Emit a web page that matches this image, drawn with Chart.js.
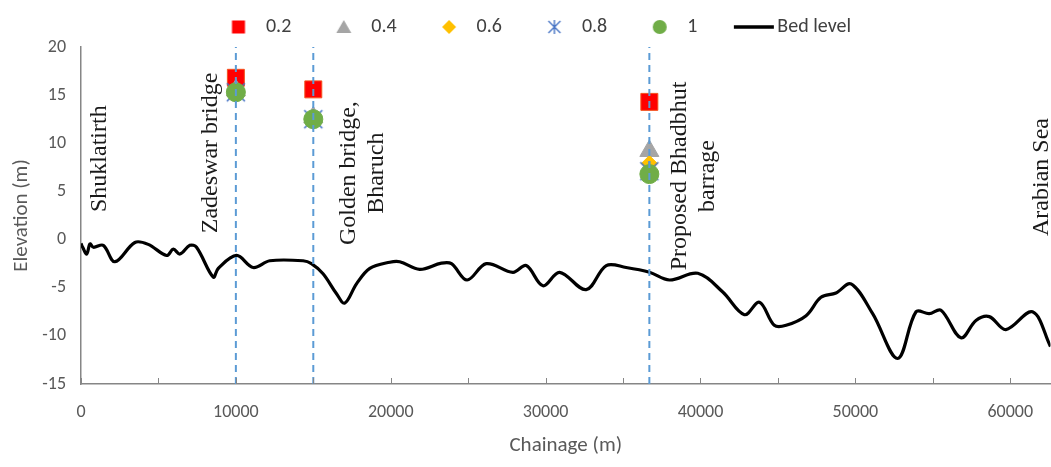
<!DOCTYPE html>
<html>
<head>
<meta charset="utf-8">
<script src="https://cdn.jsdelivr.net/npm/chart.js@4.4.1/dist/chart.umd.min.js"></script>
<style>
  body { margin: 0; background: #fff; }
</style>
</head>
<body>
<canvas id="profileChart" width="1051" height="467"></canvas>
<script>
// bed profile along the river (chainage in m, elevation in m)
var chainage = [0, 110, 370, 580, 800, 1440, 2190, 3480, 4340, 5530, 5960, 6390, 7030, 7460, 8540, 8860,
    10040, 11120, 12190, 14340, 14880, 15630, 16490, 17030, 17790, 18650, 19940, 20580, 21870, 23270,
    23920, 24930, 26170, 27890, 28750, 29830, 30900, 32620, 33920, 35200, 36710, 38000, 39830, 41440,
    42840, 43810, 44770, 45530, 46820, 47780, 48750, 49720, 51120, 52730, 53920, 54770, 55530, 56820,
    57790, 58650, 59720, 61440, 62600];
var bedLevel = [-0.4, -0.8, -1.5, -0.45, -0.8, -0.6, -2.3, -0.3, -0.5, -1.65, -1.0, -1.5, -0.6, -0.8, -3.9, -3.0,
    -1.65, -2.9, -2.2, -2.2, -2.5, -3.55, -5.6, -6.6, -4.6, -3.0, -2.35, -2.3, -3.1, -2.45,
    -2.5, -4.2, -2.5, -3.4, -2.7, -4.8, -3.4, -5.2, -2.7, -2.9, -3.4, -4.2, -3.5, -5.45,
    -7.8, -6.5, -8.9, -8.9, -7.9, -6.0, -5.55, -4.6, -7.7, -12.35, -7.5, -7.7, -7.35, -10.2,
    -8.4, -8.0, -9.35, -7.5, -11.1];

// water levels at the three sections
var sectionChainage = [10000, 15000, 36700];
var level02 = [16.8, 15.6, 14.3];
var level04 = [15.5, 12.7, 9.2];
var level06 = [15.4, 12.6, 7.9];
var level08 = [15.3, 12.5, 7.1];
var level10 = [15.3, 12.5, 6.8];

var xTicks = [0, 10000, 20000, 30000, 40000, 50000, 60000];
var yTop = 20, yBottom = -15, xMax = 62600;

// place names written along the profile
var placeNotes = [
    { lines: ['Shuklatirth'], x: 1230, y: 8.4 },
    { lines: ['Zadeswar bridge'], x: 8390, y: 9.0 },
    { lines: ['Golden bridge,', 'Bharuch'], x: 18190, y: 6.9 },
    { lines: ['Proposed Bhadbhut', 'barrage'], x: 39580, y: 6.6 },
    { lines: ['Arabian Sea'], x: 62060, y: 6.5 }
];

var sansFont = 'Carlito, Calibri, Lato, sans-serif';

function toPoints(xs, ys) {
    return xs.map(function(x, i) { return { x: x, y: ys[i] }; });
}

// icon canvas whose marker sits "shift" px right of the image centre
function makeIcon(shift, halfW, h, draw) {
    var c = document.createElement('canvas');
    c.width = 2 * (Math.abs(shift) + halfW);
    c.height = h;
    draw(c.getContext('2d'), c.width / 2 + shift, h / 2);
    return c;
}

var starBig = makeIcon(0, 11, 22, function(g, cx, cy) {
    g.strokeStyle = '#4472C4'; g.lineWidth = 1.6;
    g.beginPath();
    g.moveTo(cx - 9, cy - 9); g.lineTo(cx + 9, cy + 9);
    g.moveTo(cx + 9, cy - 9); g.lineTo(cx - 9, cy + 9);
    g.moveTo(cx, cy - 10); g.lineTo(cx, cy + 10);
    g.stroke();
});

var legendShift = 10.5;
var legendIcons = {
    '0.2': makeIcon(legendShift, 8, 16, function(g, cx, cy) {
        g.fillStyle = '#FF0000'; g.fillRect(cx - 6.5, cy - 6.5, 13, 13);
    }),
    '0.4': makeIcon(legendShift, 8, 16, function(g, cx, cy) {
        g.fillStyle = '#A5A5A5'; g.beginPath();
        g.moveTo(cx, cy - 7); g.lineTo(cx + 7.5, cy + 6); g.lineTo(cx - 7.5, cy + 6); g.closePath(); g.fill();
    }),
    '0.6': makeIcon(legendShift, 8, 16, function(g, cx, cy) {
        g.fillStyle = '#FFC000'; g.beginPath();
        g.moveTo(cx, cy - 7); g.lineTo(cx + 7, cy); g.lineTo(cx, cy + 7); g.lineTo(cx - 7, cy); g.closePath(); g.fill();
    }),
    '0.8': makeIcon(legendShift, 8, 16, function(g, cx, cy) {
        g.strokeStyle = '#4472C4'; g.lineWidth = 1.4; g.beginPath();
        g.moveTo(cx - 6, cy - 6); g.lineTo(cx + 6, cy + 6); g.moveTo(cx + 6, cy - 6); g.lineTo(cx - 6, cy + 6);
        g.moveTo(cx, cy - 7); g.lineTo(cx, cy + 7); g.stroke();
    }),
    '1': makeIcon(legendShift, 8, 16, function(g, cx, cy) {
        g.fillStyle = '#70AD47'; g.beginPath(); g.arc(cx, cy, 7, 0, Math.PI * 2); g.fill();
    }),
    'Bed level': makeIcon(14.5, 21, 6, function(g, cx, cy) {
        g.fillStyle = '#000'; g.fillRect(cx - 20, cy - 1.75, 40, 3.5);
    })
};

var sectionLines = sectionChainage.map(function(x) {
    return {
        label: 'section',
        data: [{ x: x, y: yBottom }, { x: x, y: yTop }],
        borderColor: '#5B9BD5',
        borderWidth: 2,
        borderDash: [7, 5],
        pointRadius: 0,
        showLine: true,
        order: 0
    };
});

var notesPlugin = {
    id: 'placeNotes',
    afterDatasetsDraw: function(chart) {
        var ctx = chart.ctx, xs = chart.scales.x, ys = chart.scales.y;
        ctx.save();
        ctx.fillStyle = '#1a1a1a';
        ctx.font = '24px "Liberation Serif", "Times New Roman", serif';
        ctx.textAlign = 'center';
        ctx.textBaseline = 'middle';
        placeNotes.forEach(function(n) {
            ctx.save();
            ctx.translate(xs.getPixelForValue(n.x), ys.getPixelForValue(n.y));
            ctx.rotate(-Math.PI / 2);
            n.lines.forEach(function(t, i) {
                ctx.fillText(t, 0, (i - (n.lines.length - 1) / 2) * 28);
            });
            ctx.restore();
        });
        ctx.restore();
    },
    afterDraw: function(chart) {
        // small tick marks every 5000 m pointing into the plot
        var ctx = chart.ctx, xs = chart.scales.x, bottom = chart.chartArea.bottom;
        ctx.save();
        ctx.strokeStyle = '#868686';
        ctx.lineWidth = 1;
        for (var v = 0; v <= xs.max; v += 5000) {
            var px = Math.round(xs.getPixelForValue(v)) + 0.5;
            ctx.beginPath();
            ctx.moveTo(px, bottom);
            ctx.lineTo(px, bottom - 6);
            ctx.stroke();
        }
        ctx.restore();
    }
};

var ctx = document.getElementById('profileChart').getContext('2d');
var profileChart = new Chart(ctx, {
    type: 'scatter',
    data: {
        datasets: [{
            label: '0.2',
            data: toPoints(sectionChainage, level02),
            pointStyle: 'rect',
            pointRadius: 12,
            backgroundColor: '#FF0000',
            borderColor: '#F4511E',
            borderWidth: 1,
            order: 5
        }, {
            label: '0.4',
            data: toPoints(sectionChainage, level04),
            pointStyle: 'triangle',
            pointRadius: 11,
            backgroundColor: '#A5A5A5',
            borderColor: '#A5A5A5',
            order: 4
        }, {
            label: '0.6',
            data: toPoints(sectionChainage, level06),
            pointStyle: 'rectRot',
            pointRadius: 8,
            backgroundColor: '#FFC000',
            borderColor: '#FFC000',
            order: 3
        }, {
            label: '0.8',
            data: toPoints(sectionChainage, level08),
            pointStyle: starBig,
            backgroundColor: '#4472C4',
            borderColor: '#4472C4',
            order: 2
        }, {
            label: '1',
            data: toPoints(sectionChainage, level10),
            pointStyle: 'circle',
            pointRadius: 9.5,
            backgroundColor: '#70AD47',
            borderColor: '#70AD47',
            order: 1
        }, {
            label: 'Bed level',
            data: toPoints(chainage, bedLevel),
            showLine: true,
            borderColor: '#000000',
            borderWidth: 3.2,
            pointRadius: 0,
            tension: 0.35,
            order: 6
        }].concat(sectionLines)
    },
    plugins: [notesPlugin],
    options: {
        responsive: false,
        animation: false,
        devicePixelRatio: 1,
        layout: { autoPadding: false, padding: { top: 3, right: 0, left: 0, bottom: 0 } },
        plugins: {
            tooltip: { enabled: false },
            legend: {
                position: 'top',
                labels: {
                    usePointStyle: true,
                    pointStyleWidth: 56,
                    padding: 14,
                    color: '#404040',
                    font: { family: sansFont, size: 20 },
                    sort: function(a, b) { return a.datasetIndex - b.datasetIndex; },
                    filter: function(item) { return item.text !== 'section'; },
                    generateLabels: function(chart) {
                        var items = Chart.defaults.plugins.legend.labels.generateLabels(chart);
                        items.forEach(function(it) {
                            if (legendIcons[it.text]) it.pointStyle = legendIcons[it.text];
                        });
                        return items;
                    }
                }
            }
        },
        scales: {
            x: {
                type: 'linear',
                min: 0,
                max: xMax,
                afterFit: function(s) { s.height = 83; },
                afterBuildTicks: function(s) {
                    s.ticks = xTicks.map(function(v) { return { value: v }; });
                },
                grid: { display: false, drawTicks: false },
                border: { color: '#868686', width: 1.5 },
                ticks: {
                    maxRotation: 0,
                    autoSkip: false,
                    padding: 18,
                    color: '#595959',
                    format: { useGrouping: false },
                    font: { family: sansFont, size: 18 }
                },
                title: {
                    display: true,
                    text: 'Chainage (m)',
                    color: '#595959',
                    padding: { top: 0, bottom: 9 },
                    font: { family: sansFont, size: 21 }
                }
            },
            y: {
                min: yBottom,
                max: yTop,
                afterFit: function(s) { s.width = 81; },
                grid: { display: false, drawTicks: false },
                border: { color: '#868686', width: 1.5 },
                ticks: {
                    stepSize: 5,
                    padding: 15,
                    color: '#595959',
                    font: { family: sansFont, size: 18 }
                },
                title: {
                    display: true,
                    text: 'Elevation (m)',
                    color: '#595959',
                    padding: { top: 9, bottom: 0 },
                    font: { family: sansFont, size: 21 }
                }
            }
        }
    }
});
</script>
</body>
</html>
